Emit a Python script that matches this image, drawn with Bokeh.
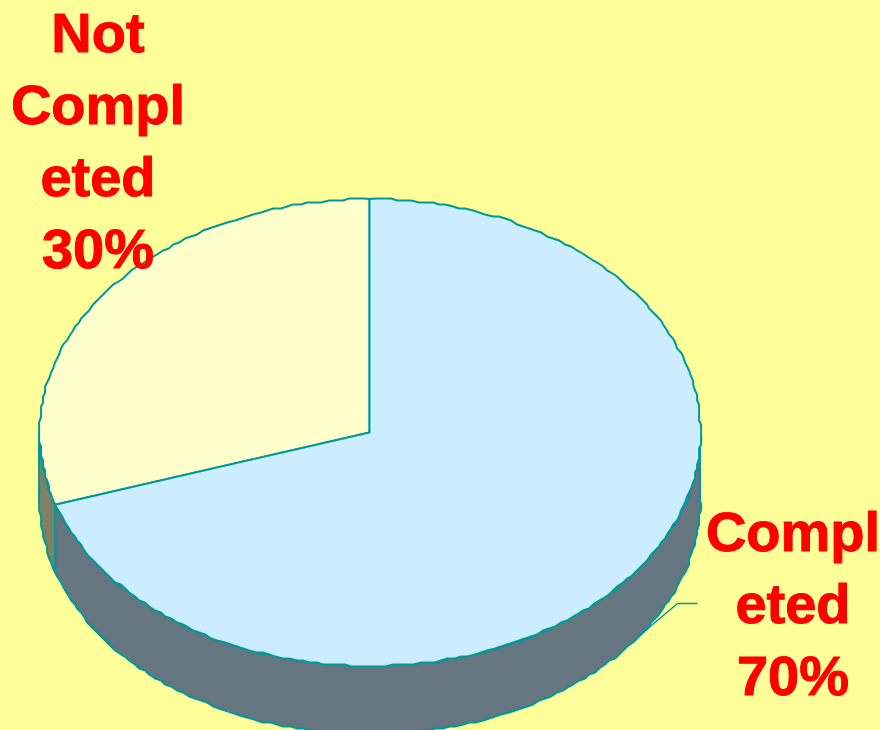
import numpy as np
from bokeh.embed import file_html
from bokeh.models import Range1d
from bokeh.plotting import figure
from bokeh.resources import INLINE
from bokeh.core.properties import value

# Slice data: drawn counter-clockwise from twelve o'clock, "Not Completed" first
categories = ["Not Completed", "Completed"]
shares = [30, 70]
top_colors = ["#FFFFCC", "#CCECFF"]
side_colors = ["#808066", "#667680"]
label_lines = [["Not", "Compl", "eted", "30%"], ["Compl", "eted", "70%"]]

BG = "#FFFF99"
EDGE = "#009999"
CX, CY, RX, RY, DEPTH = 369.0, 432.0, 330.5, 233.5, 68.0
STEP = 2.0  # the outline is snapped to a coarse grid, giving its stepped edge
SNAP_SHIFT = 0.6  # offset of that grid, keeps both side extremes on the rim


def rim(a0, a1, dy=0.0):
    """Rim points between two angles, measured counter-clockwise from the top."""
    n = max(2, int(abs(a1 - a0) / np.radians(1.2)))
    t = np.linspace(a0, a1, n)
    x = CX - RX * np.sin(t)
    y = CY - RY * np.cos(t)
    inner = (t > a0) & (t < a1)
    x = np.where(inner, np.round(x / STEP) * STEP + SNAP_SHIFT, x)
    y = np.where(inner, np.round(y / STEP) * STEP, y)
    return x, y + dy


p = figure(width=880, height=730, output_backend="svg", toolbar_location=None,
           x_range=Range1d(0, 880), y_range=Range1d(730, 0),
           min_border=0, outline_line_color=None,
           background_fill_color=BG, border_fill_color=BG,
           styles={"background-color": BG})
p.axis.visible = False
p.grid.visible = False

fractions = np.cumsum([0] + shares) / sum(shares)
angles = 2 * np.pi * fractions

# Side wall: only the part of each slice on the front half of the rim shows
for i in range(len(shares)):
    a0 = max(angles[i], np.pi / 2)
    a1 = min(angles[i + 1], 3 * np.pi / 2)
    if a1 <= a0:
        continue
    xt, yt = rim(a0, a1)
    xb, yb = rim(a0, a1, DEPTH)
    p.patch(np.r_[xt, xb[::-1]], np.r_[yt, yb[::-1]], fill_color=side_colors[i],
            line_color=EDGE, line_width=2)

# Top face of each slice
for i in range(len(shares)):
    x, y = rim(angles[i], angles[i + 1])
    p.patch(np.r_[CX, x], np.r_[CY, y], fill_color=top_colors[i],
            line_color=EDGE, line_width=2, line_join="miter")

# Leader line from the middle of the larger slice's outer wall to its label
mid = (angles[1] + angles[2]) / 2
lx = CX - RX * np.sin(mid)
ly = CY - RY * np.cos(mid) + DEPTH
p.line([lx, 677, 697], [ly, 603, 603], line_color=EDGE, line_width=1.5)

# Labels, one text per line; the thin outline gives the heavier stroke weight
anchors = [(97.5, 32), (792.5, 531)]
for lines, (ax, ay) in zip(label_lines, anchors):
    p.text([ax] * len(lines), [ay + 72 * k for k in range(len(lines))], text=lines,
           text_color="#FF0000", text_font=value("Liberation Sans"),
           text_font_style="bold", text_font_size="56px",
           text_outline_color="#FF0000",
           text_align="center", text_baseline="alphabetic")

open("out.html", "w").write(file_html(p, INLINE))
